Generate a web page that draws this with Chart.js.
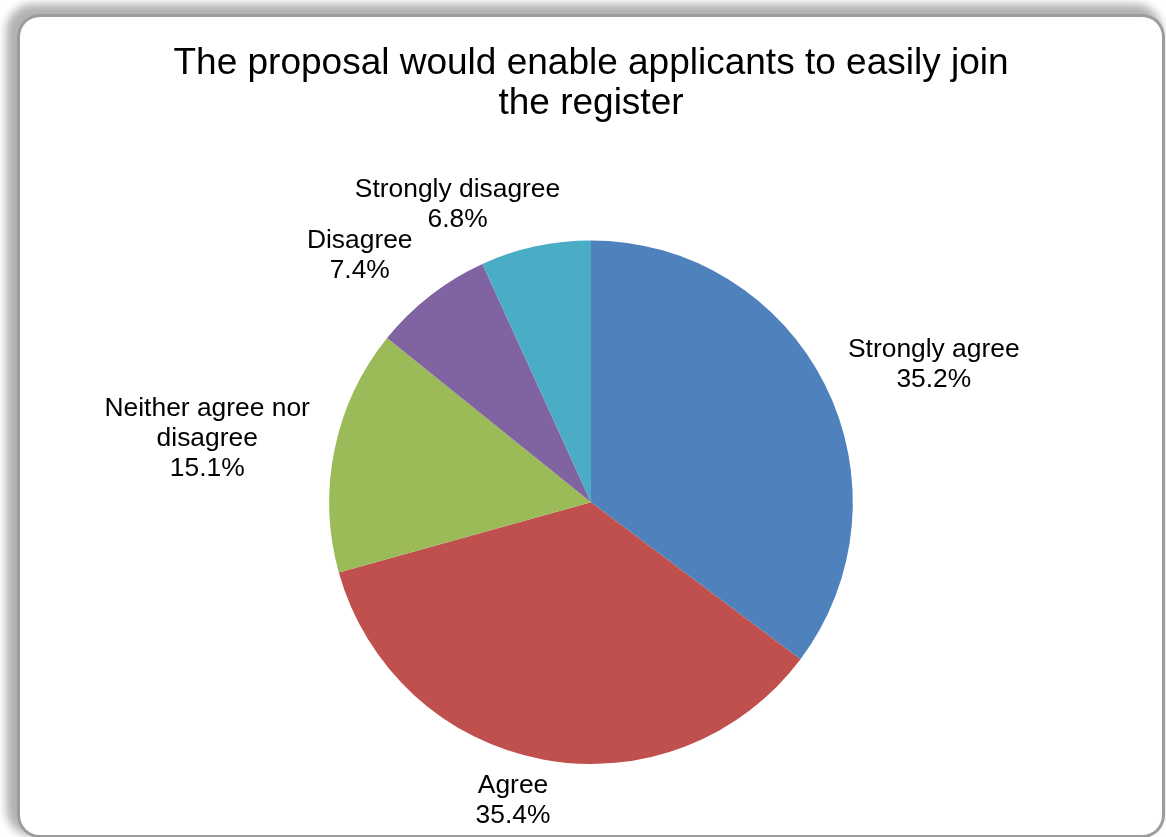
<!DOCTYPE html>
<html>
<head>
<meta charset="utf-8">
<script src="https://cdn.jsdelivr.net/npm/chart.js@4"></script>
<style>
 html,body{margin:0;padding:0;background:#fff;}
 body{width:1166px;height:837px;overflow:hidden;position:relative;}
 #frame{
  position:absolute;left:20px;top:17px;width:1142px;height:818px;
  background:#fff;border-radius:20px;
  box-shadow:0 0 0 3px #9c9c9c,-7px -6px 9px 7px rgba(0,0,0,0.3);
 }
 #box{position:absolute;left:0;top:0;width:1142px;height:818px;}
</style>
</head>
<body>
<div id="frame"><div id="box"><canvas id="pieCanvas"></canvas></div></div>
<script>
const titleLines=["The proposal would enable applicants to easily join","the register"];
const categories=["Strongly agree","Agree","Neither agree nor disagree","Disagree","Strongly disagree"];
const labelLines=[["Strongly agree"],["Agree"],["Neither agree nor","disagree"],["Disagree"],["Strongly disagree"]];
const shares=[35.2,35.4,15.1,7.4,6.8];
const colors=["#4F81BD","#C0504D","#9BBB59","#8064A2","#4BACC6"];

/* ----- LABELS ----- */
// radius factor + angle shift (deg) from each slice's middle
const place=[
 {f:1.411,da:4.7},
 {f:1.179,da:4.0},
 {f:1.486,da:-2.2},
 {f:1.292,da:-5.3},
 {f:1.246,da:-11.9}
];

const sliceLabels={
 id:"sliceLabels",
 afterDatasetsDraw(chart){
  const ctx=chart.ctx;
  const arcs=chart.getDatasetMeta(0).data;
  ctx.save();
  ctx.font="26.4px 'Liberation Sans', Arial, sans-serif";
  ctx.fillStyle="#000";
  ctx.textAlign="center";
  ctx.textBaseline="middle";
  const lh=30;
  arcs.forEach((a,i)=>{
   const mid=(a.startAngle+a.endAngle)/2+place[i].da*Math.PI/180;
   const r=a.outerRadius*place[i].f;
   const cx=a.x+Math.cos(mid)*r;
   const cy=a.y+Math.sin(mid)*r;
   const lines=labelLines[i].concat([shares[i].toFixed(1)+"%"]);
   const top=cy-(lines.length-1)*lh/2;
   lines.forEach((t,j)=>ctx.fillText(t,cx,top+j*lh));
  });
  ctx.restore();
 }
};

new Chart(pieCanvas,{
 type:"pie",
 data:{
  labels:categories,
  datasets:[{
   data:shares,
   backgroundColor:colors,
   borderWidth:0,
   hoverOffset:0
  }]
 },
 options:{
  responsive:true,
  maintainAspectRatio:false,
  animation:false,
  layout:{padding:{top:0,bottom:71,left:0,right:0}},
  plugins:{
   legend:{display:false},
   tooltip:{enabled:false},
   title:{
    display:true,
    text:titleLines,
    color:"#000",
    font:{family:"'Liberation Sans', Arial, sans-serif",size:37,weight:"normal",lineHeight:1.1},
    padding:{top:26,bottom:116}
   }
  }
 },
 plugins:[sliceLabels]
});
</script>
</body>
</html>
